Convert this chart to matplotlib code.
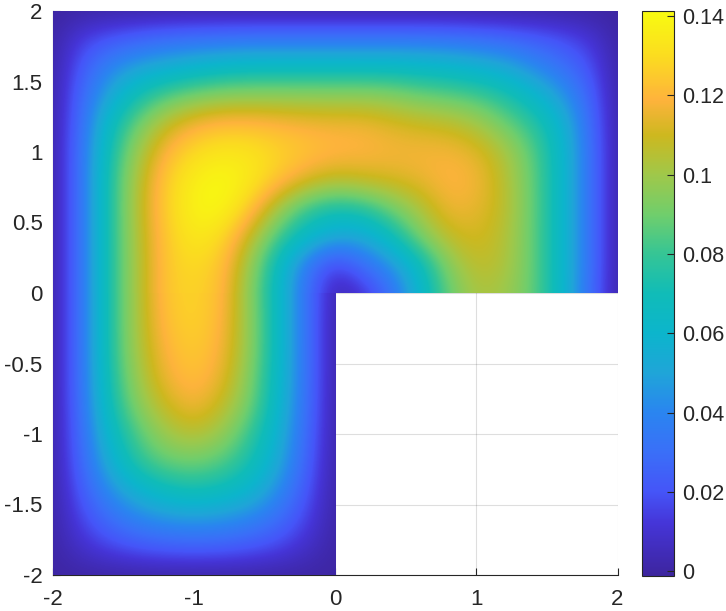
import numpy as np
import matplotlib
matplotlib.use('Agg')
import matplotlib.pyplot as plt
from matplotlib.colors import LinearSegmentedColormap
from matplotlib.patches import Rectangle

plt.rcParams['font.family'] = ['Liberation Sans', 'DejaVu Sans']
plt.rcParams['axes.unicode_minus'] = False

# field values, every 0.2 in x and y
# upper half: y from 2 down to 0, x from -2 to 2
top_rows = [
    [0, 0, 0, 0, 0, 0, 0, 0, 0, 0, 0, 0, 0, 0, 0, 0, 0, 0, 0, 0, 0],
    [0, .014, .021, .026, .03, .032, .033, .034, .034, .034, .034, .034, .034, .034, .033, .031, .028, .024, .019, .012, 0],
    [0, .022, .04, .05, .055, .06, .064, .066, .066, .066, .066, .066, .066, .064, .062, .058, .053, .042, .032, .02, 0],
    [0, .027, .052, .072, .085, .092, .096, .097, .097, .097, .097, .097, .095, .09, .087, .083, .075, .063, .047, .026, 0],
    [0, .03, .066, .09, .108, .118, .122, .122, .12, .118, .117, .117, .113, .11, .108, .102, .09, .078, .06, .03, 0],
    [0, .032, .072, .1, .12, .13, .134, .133, .128, .124, .121, .12, .118, .118, .118, .114, .103, .086, .063, .032, 0],
    [0, .032, .075, .105, .126, .137, .141, .135, .124, .113, .107, .11, .112, .115, .12, .118, .106, .088, .063, .032, 0],
    [0, .032, .075, .106, .127, .139, .14, .125, .1, .08, .072, .076, .09, .103, .117, .115, .107, .088, .063, .032, 0],
    [0, .032, .075, .105, .125, .135, .13, .108, .082, .063, .052, .052, .068, .092, .108, .112, .105, .088, .063, .032, 0],
    [0, .032, .075, .104, .125, .13, .124, .098, .065, .034, .013, .03, .045, .066, .095, .108, .104, .088, .063, .032, 0],
    [0, .032, .075, .104, .125, .128, .122, .095, .063, .03, .002, .01, .03, .06, .088, .103, .1, .088, .063, .03, 0],
]
# lower half: y from 0 down to -2, x from -2 to 0
bottom_rows = [
    [0, .032, .075, .104, .125, .128, .122, .095, .063, .03, .002],
    [0, .032, .075, .104, .123, .128, .12, .096, .063, .03, 0],
    [0, .032, .075, .103, .12, .126, .118, .096, .063, .03, 0],
    [0, .032, .073, .1, .117, .123, .115, .093, .062, .03, 0],
    [0, .031, .07, .095, .11, .118, .108, .09, .06, .029, 0],
    [0, .029, .063, .085, .1, .106, .098, .08, .056, .027, 0],
    [0, .027, .055, .078, .088, .09, .085, .072, .052, .024, 0],
    [0, .022, .043, .058, .068, .072, .068, .06, .042, .02, 0],
    [0, .016, .03, .04, .045, .047, .045, .04, .03, .015, 0],
    [0, .009, .016, .021, .024, .025, .024, .021, .016, .008, 0],
    [0, 0, 0, 0, 0, 0, 0, 0, 0, 0, 0],
]

ticks = [-2, -1.5, -1, -0.5, 0, 0.5, 1, 1.5, 2]
tick_labels = ['-2', '-1.5', '-1', '-0.5', '0', '0.5', '1', '1.5', '2']
x_ticks = [-2, -1, 0, 1, 2]
x_tick_labels = ['-2', '-1', '0', '1', '2']
cbar_ticks = [0, 0.02, 0.04, 0.06, 0.08, 0.1, 0.12, 0.14]
cbar_labels = ['0', '0.02', '0.04', '0.06', '0.08', '0.1', '0.12', '0.14']

vmin, vmax = -0.00108, 0.1413

# colours sampled off the reference colorbar
cmap_values = [vmin, 0.012, 0.02, 0.03, 0.04, 0.05, 0.06, 0.07, 0.08, 0.09, 0.1, 0.11, 0.119, 0.13, vmax]
cmap_colors = ['#3d259f', '#4535d8', '#4555f8', '#3a6ff8', '#2a85f0', '#1fa5d8', '#0cb5cc', '#10bcb8',
               '#35c595', '#70ce6c', '#9fc84a', '#cdb81f', '#feb33c', '#fbdc20', '#f8fb10']
parula = LinearSegmentedColormap.from_list(
    'parula_like',
    [((v - vmin) / (vmax - vmin), c) for v, c in zip(cmap_values, cmap_colors)], N=512)

W, H = 726, 611
fig = plt.figure(figsize=(W / 100, H / 100), dpi=100)
ax = fig.add_axes([53 / W, 1 - 575 / H, 564.5 / W, 564 / H])
cax = fig.add_axes([641.5 / W, 1 - 575.5 / H, 32 / W, 564.5 / H])

opts = dict(cmap=parula, vmin=vmin, vmax=vmax, zorder=2, aspect='auto',
            interpolation='bicubic', interpolation_stage='data')
im = ax.imshow(np.array(top_rows), extent=(-2.1, 2.1, -0.1, 2.1), **opts)
im.set_clip_path(Rectangle((-2, 0), 4, 2, transform=ax.transData))
im2 = ax.imshow(np.array(bottom_rows), extent=(-2.1, 0.1, -2.1, 0.1), **opts)
im2.set_clip_path(Rectangle((-2, -2), 2, 2, transform=ax.transData))

ax.set_xlim(-2, 2)
ax.set_ylim(-2, 2)
ax.set_xticks(x_ticks)
ax.set_xticklabels(x_tick_labels)
ax.set_yticks(ticks)
ax.set_yticklabels(tick_labels)
ax.set_axisbelow(True)
ax.grid(True, color='#262626', alpha=0.15, linewidth=0.8)
ax.tick_params(direction='in', length=5, width=0.8, color='#262626',
               labelcolor='#262626', labelsize=16)
ax.tick_params(axis='x', pad=10)
ax.tick_params(axis='y', pad=7.5)
ax.spines['top'].set_visible(False)
ax.spines['right'].set_visible(False)
for side in ['left', 'bottom']:
    ax.spines[side].set_color('#262626')
    ax.spines[side].set_linewidth(0.8)
    ax.spines[side].set_zorder(0.5)

cbar = fig.colorbar(im, cax=cax)
cbar.set_ticks(cbar_ticks)
cbar.set_ticklabels(cbar_labels)
cbar.ax.tick_params(direction='in', length=5, width=0.8, color='#262626',
                    labelcolor='#262626', labelsize=15.5, pad=6)
cbar.outline.set_edgecolor('#262626')
cbar.outline.set_linewidth(0.8)

fig.savefig('out.png', dpi=100)
